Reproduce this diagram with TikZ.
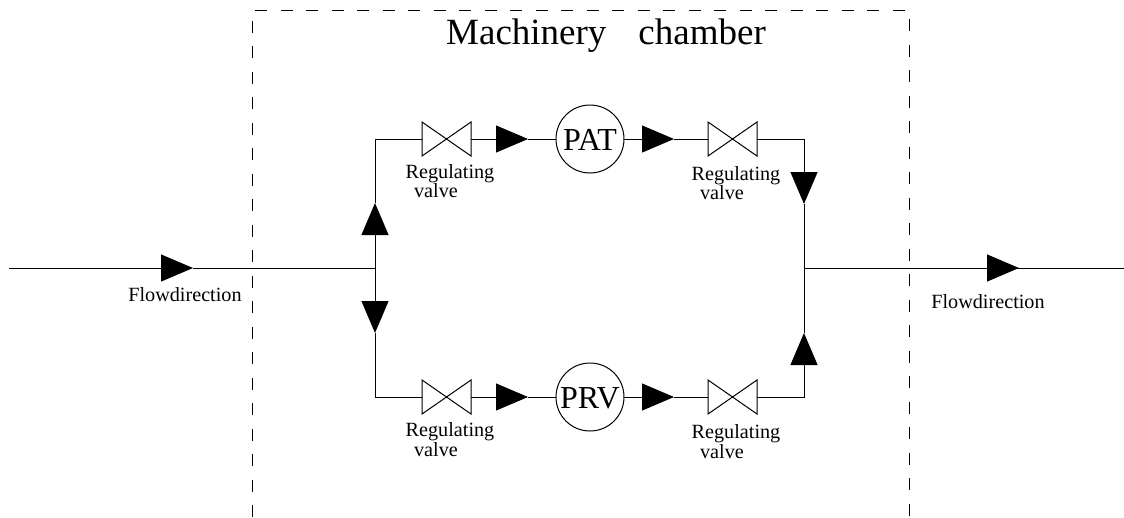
\documentclass[tikz,border=0pt]{standalone}
\usepackage{fontspec}
\setmainfont{Liberation Serif}
\usetikzlibrary{arrows.meta}
\tikzset{
  pipe/.style={draw=black,line width=1pt},
  flow/.style={pipe,-{Triangle[length=32pt,width=27pt]}},
  chamber/.style={draw=black,line width=1pt,dash pattern=on 12pt off 13.5pt},
  valve/.style={minimum width=49pt,minimum height=34pt,inner sep=0pt,outer sep=0pt},
  bowtie/.style={draw=black,line width=1pt,line join=miter},
  machine/.style={circle,draw=black,line width=1pt,minimum size=68pt,inner sep=0pt,outer sep=0pt},
  machtext/.style={anchor=base,inner sep=0pt,font=\fontsize{32pt}{32pt}\selectfont},
  lab/.style={anchor=base,inner sep=0pt,font=\fontsize{20.2pt}{20.2pt}\selectfont},
  title/.style={anchor=base,inner sep=0pt,font=\fontsize{37pt}{37pt}\selectfont}
}
\newcommand{\valvenode}[2]{%
  \node[valve] (#1) at (#2) {};
  \draw[bowtie] (#1.north west) -- (#1.south east) -- (#1.north east) -- (#1.south west) -- cycle;
}
\begin{document}
\begin{tikzpicture}[x=1pt,y=-1pt]
\useasboundingbox (0,0) rectangle (1124,517);
% chamber
\coordinate (cbl) at (252,517);
\coordinate (ctl) at (252,10);
\coordinate (ctr) at (909,10);
\coordinate (cbr) at (909,517);
\draw[chamber] (cbl) -- (ctl) -- (ctr) -- (cbr);
\node[title] (ttl) at (606,44) {Machinery\hspace{32pt}chamber};
% equipment
\valvenode{v1}{446.5,139}
\valvenode{v2}{732.5,139}
\valvenode{v3}{446.5,397}
\valvenode{v4}{732.5,397}
\node[machine] (pat) at (590,139) {};
\node[machine] (prv) at (590,397) {};
\node[machtext] (pattext) at (590,150) {PAT};
\node[machtext] (prvtext) at (590,408) {PRV};
% junctions and free ends
\coordinate (in) at (9,268);
\coordinate (out) at (1124,268);
\coordinate (jl) at (375,268);
\coordinate (jr) at (804,268);
\coordinate (tl) at (375,139);
\coordinate (tr) at (804,139);
\coordinate (bl) at (375,397);
\coordinate (br) at (804,397);
% arrow tips
\coordinate (a1) at (193,268);
\coordinate (a2) at (1019,268);
\coordinate (a3) at (375,203);
\coordinate (a4) at (375,333);
\coordinate (a5) at (528,139);
\coordinate (a6) at (674,139);
\coordinate (a7) at (804,204);
\coordinate (a8) at (528,397);
\coordinate (a9) at (674,397);
\coordinate (a10) at (804,333);
% main line
\draw[flow] (in) -- (a1);
\draw[pipe] (a1) -- (jl);
\draw[pipe] (jr) -- (a2);
\draw[flow] ([xshift=-32pt]a2) -- (a2);
\draw[pipe] (a2) -- (out);
% upper branch
\draw[flow] (jl) -- (a3);
\draw[pipe] (a3) -- (tl) -- (v1.west);
\draw[flow] (v1.east) -- (a5);
\draw[pipe] (a5) -- (pat.west);
\draw[flow] (pat.east) -- (a6);
\draw[pipe] (a6) -- (v2.west);
\draw[flow] (v2.east) -- (tr) -- (a7);
\draw[pipe] (a7) -- (jr);
% lower branch
\draw[flow] (jl) -- (a4);
\draw[pipe] (a4) -- (bl) -- (v3.west);
\draw[flow] (v3.east) -- (a8);
\draw[pipe] (a8) -- (prv.west);
\draw[flow] (prv.east) -- (a9);
\draw[pipe] (a9) -- (v4.west);
\draw[flow] (v4.east) -- (br) -- (a10);
\draw[pipe] (a10) -- (jr);
% labels
\node[lab] (r1) at (450,178) {Regulating};
\node[lab] (w1) at (436,197) {valve};
\node[lab] (r2) at (736,180) {Regulating};
\node[lab] (w2) at (722,199) {valve};
\node[lab] (r3) at (450,436) {Regulating};
\node[lab] (w3) at (436,456) {valve};
\node[lab] (r4) at (736,438) {Regulating};
\node[lab] (w4) at (722,458) {valve};
\node[lab] (f1) at (185,301) {Flowdirection};
\node[lab] (f2) at (988,308) {Flowdirection};
\end{tikzpicture}
\end{document}
